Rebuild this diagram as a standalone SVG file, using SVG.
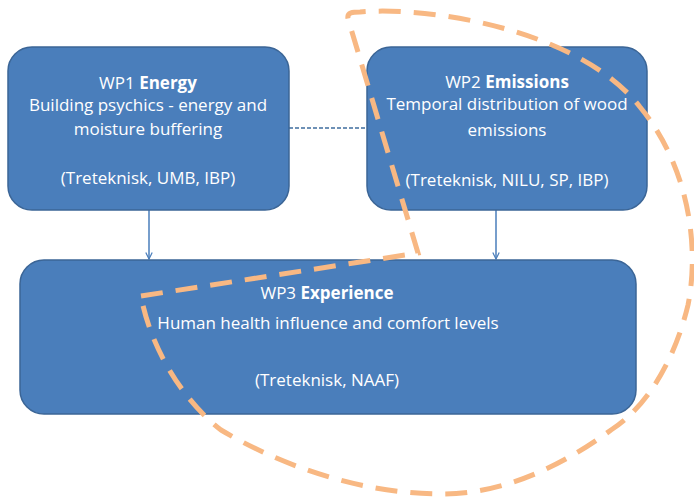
<svg xmlns="http://www.w3.org/2000/svg" width="694" height="500" viewBox="0 0 694 500">
<style>
.box{fill:#4a7ebb;stroke:#3b6596;stroke-width:1.5}
.t{font-family:"Open Sans","Liberation Sans",Arial,sans-serif;font-size:17px;fill:#ffffff;text-anchor:middle}
.t3{font-family:"Open Sans","Liberation Sans",Arial,sans-serif;font-size:17px;fill:#ffffff;text-anchor:middle}
.b{font-weight:bold}
.arrow{stroke:#4a7ebb;stroke-width:1.5;fill:none}
.dash{stroke:#3f6d9f;stroke-width:1.5;stroke-dasharray:4 2;fill:none}
.hl{fill:none;stroke:#f8b883;stroke-width:5;stroke-dasharray:22 13}
</style>
<defs>
<marker id="ah" viewBox="0 0 10 10" refX="9" refY="5" markerWidth="8" markerHeight="8" markerUnits="userSpaceOnUse" orient="auto">
<path d="M1,1 L9,5 L1,9" fill="none" stroke="#4a7ebb" stroke-width="1.5"/>
</marker>
</defs>
<rect width="694" height="500" fill="#ffffff"/>
<g id="connectors">
<line class="arrow" x1="149" y1="210" x2="149" y2="259" marker-end="url(#ah)"/>
<line class="arrow" x1="496" y1="210" x2="496" y2="259" marker-end="url(#ah)"/>
<line class="dash" x1="289" y1="128" x2="367" y2="128"/>
</g>
<g id="wp1">
<rect class="box" x="8" y="47" width="281" height="163" rx="24"/>
<text class="t" x="148" y="89">WP1 <tspan class="b">Energy</tspan></text>
<text class="t" x="148" y="111">Building psychics - energy and</text>
<text class="t" x="148" y="135">moisture buffering</text>
<text class="t" x="148" y="184">(Treteknisk, UMB, IBP)</text>
</g>
<g id="wp2">
<rect class="box" x="367" y="47" width="280" height="163" rx="24"/>
<text class="t" x="507" y="88">WP2 <tspan class="b">Emissions</tspan></text>
<text class="t" x="507" y="110">Temporal distribution of wood</text>
<text class="t" x="507" y="136">emissions</text>
<text class="t" x="507" y="186">(Treteknisk, NILU, SP, IBP)</text>
</g>
<g id="wp3">
<rect class="box" x="20" y="260" width="616" height="154" rx="24"/>
<text class="t3" x="327" y="299">WP3 <tspan class="b">Experience</tspan></text>
<text class="t3" x="328" y="329">Human health influence and comfort levels</text>
<text class="t3" x="327" y="386">(Treteknisk, NAAF)</text>
</g>
<g id="highlight">
<path class="hl" d="M141 296 L418 253 L349 22 C345 12 352 12 360 12 C430 6 580 30 640 107 C688 165 700 245 688 305 C676 355 650 405 611 430 C570 460 510 494 442 494 C360 494 280 465 221 430 C180 398 150 345 141 296 Z"/>
</g>
</svg>
